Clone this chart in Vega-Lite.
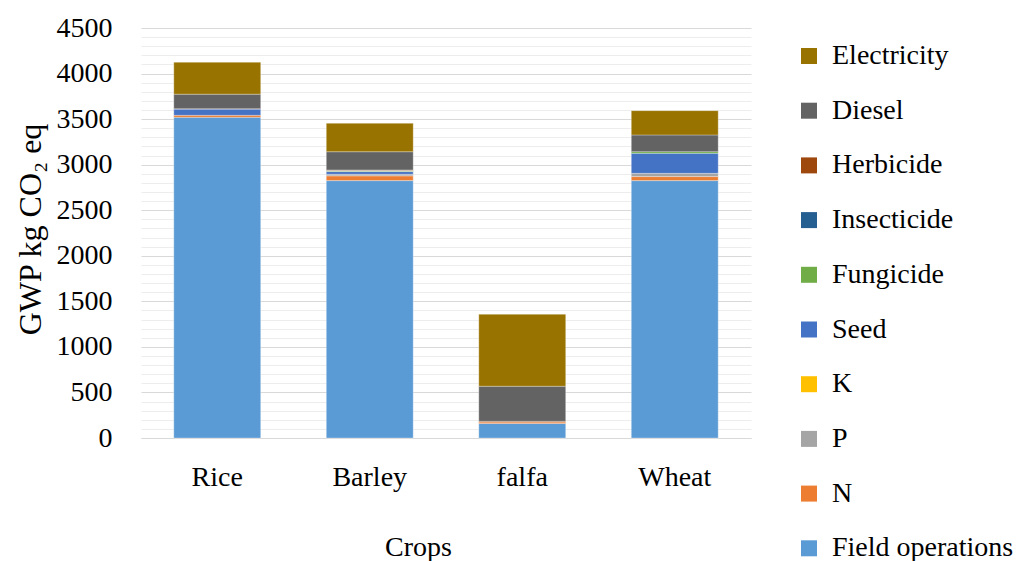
{
  "$schema": "https://vega.github.io/schema/vega-lite/v6.json",
  "autosize": {"type": "none"},
  "padding": {"left": 141, "top": 28, "right": 276, "bottom": 123},
  "width": 610,
  "height": 410,
  "background": "white",
  "data": {
    "values": [
      {"crop": "Rice", "source": "Field operations", "value": 3520},
      {"crop": "Rice", "source": "N", "value": 22},
      {"crop": "Rice", "source": "Herbicide", "value": 6},
      {"crop": "Rice", "source": "Seed", "value": 66},
      {"crop": "Rice", "source": "Diesel", "value": 160},
      {"crop": "Rice", "source": "Electricity", "value": 350},
      {"crop": "Barley", "source": "Field operations", "value": 2825},
      {"crop": "Barley", "source": "N", "value": 52},
      {"crop": "Barley", "source": "P", "value": 18},
      {"crop": "Barley", "source": "Seed", "value": 29},
      {"crop": "Barley", "source": "Fungicide", "value": 8},
      {"crop": "Barley", "source": "Insecticide", "value": 5},
      {"crop": "Barley", "source": "Herbicide", "value": 5},
      {"crop": "Barley", "source": "Diesel", "value": 200},
      {"crop": "Barley", "source": "Electricity", "value": 312},
      {"crop": "falfa", "source": "Field operations", "value": 160},
      {"crop": "falfa", "source": "N", "value": 15},
      {"crop": "falfa", "source": "Herbicide", "value": 8},
      {"crop": "falfa", "source": "Diesel", "value": 385},
      {"crop": "falfa", "source": "Electricity", "value": 790},
      {"crop": "Wheat", "source": "Field operations", "value": 2825},
      {"crop": "Wheat", "source": "N", "value": 44},
      {"crop": "Wheat", "source": "P", "value": 36},
      {"crop": "Wheat", "source": "Seed", "value": 220},
      {"crop": "Wheat", "source": "Fungicide", "value": 18},
      {"crop": "Wheat", "source": "Diesel", "value": 183},
      {"crop": "Wheat", "source": "Electricity", "value": 267}
    ]
  },
  "transform": [
    {
      "calculate": "indexof(['Electricity','Diesel','Herbicide','Insecticide','Fungicide','Seed','K','P','N','Field operations'], datum.source)",
      "as": "stackOrder"
    }
  ],
  "mark": {"type": "bar", "stroke": "white", "strokeWidth": 0.5, "strokeOpacity": 0.6},
  "encoding": {
    "x": {
      "field": "crop",
      "type": "nominal",
      "sort": ["Rice", "Barley", "falfa", "Wheat"],
      "scale": {"paddingInner": 0.43, "paddingOuter": 0.215},
      "axis": {
        "title": "Crops",
        "labelAngle": 0,
        "labelPadding": 25,
        "labelFont": "Liberation Serif",
        "labelFontSize": 28,
        "titleFont": "Liberation Serif",
        "titleFontSize": 28,
        "titleFontWeight": "normal",
        "titleX": 277,
        "titleY": 109,
        "titleBaseline": "middle",
        "ticks": false,
        "domain": true,
        "domainColor": "#d9d9d9",
        "domainWidth": 1
      }
    },
    "y": {
      "field": "value",
      "type": "quantitative",
      "aggregate": "sum",
      "stack": "zero",
      "scale": {"domain": [0, 4500], "nice": false},
      "axis": {
        "title": "GWP kg CO₂ eq",
        "values": [0,100,200,300,400,500,600,700,800,900,1000,1100,1200,1300,1400,1500,1600,1700,1800,1900,2000,2100,2200,2300,2400,2500,2600,2700,2800,2900,3000,3100,3200,3300,3400,3500,3600,3700,3800,3900,4000,4100,4200,4300,4400,4500],
        "format": "d",
        "labelExpr": "datum.value % 500 === 0 ? datum.label : ''",
        "labelFont": "Liberation Serif",
        "labelFontSize": 28,
        "labelPadding": 29,
        "titleFont": "Liberation Serif",
        "titleFontSize": 32,
        "titleFontWeight": "normal",
        "titleX": -111,
        "titleY": 201,
        "titleAlign": "center",
        "titleBaseline": "middle",
        "ticks": false,
        "domain": false,
        "grid": true,
        "gridColor": {
          "condition": {"test": "datum.value % 500 === 0", "value": "#d9d9d9"},
          "value": "#ededed"
        },
        "gridWidth": 1
      }
    },
    "color": {
      "field": "source",
      "type": "nominal",
      "scale": {
        "domain": ["Electricity", "Diesel", "Herbicide", "Insecticide", "Fungicide", "Seed", "K", "P", "N", "Field operations"],
        "range": ["#997300", "#636363", "#9E480E", "#255E91", "#70AD47", "#4472C4", "#FFC000", "#A5A5A5", "#ED7D31", "#5B9BD5"]
      },
      "legend": {
        "title": null,
        "orient": "none",
        "legendX": 654,
        "legendY": 14,
        "padding": 0,
        "symbolType": "square",
        "symbolSize": 256,
        "symbolStrokeWidth": 0,
        "labelFont": "Liberation Serif",
        "labelFontSize": 28,
        "labelLimit": 0,
        "labelOffset": 9,
        "rowPadding": 26.7
      }
    },
    "order": {"field": "stackOrder", "type": "quantitative", "sort": "descending"},
    "tooltip": [
      {"field": "crop", "type": "nominal"},
      {"field": "source", "type": "nominal"},
      {"field": "value", "type": "quantitative"}
    ]
  },
  "config": {
    "font": "Liberation Serif",
    "view": {"stroke": null},
    "axis": {"labelColor": "#000000", "titleColor": "#000000"},
    "legend": {"labelColor": "#000000"}
  }
}
